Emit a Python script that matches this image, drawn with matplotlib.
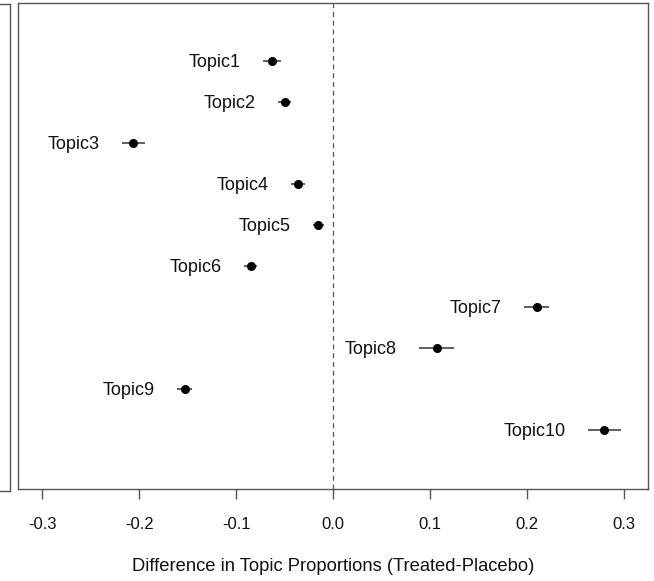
import numpy as np
import matplotlib
matplotlib.use('Agg')
import matplotlib.pyplot as plt

plt.rcParams['font.family'] = ['Liberation Sans', 'DejaVu Sans']

topics = ['Topic1', 'Topic2', 'Topic3', 'Topic4', 'Topic5',
          'Topic6', 'Topic7', 'Topic8', 'Topic9', 'Topic10']
estimates = [-0.063, -0.050, -0.206, -0.036, -0.015, -0.085, 0.210, 0.107, -0.153, 0.280]
ci_half = [0.009, 0.007, 0.012, 0.007, 0.006, 0.007, 0.013, 0.018, 0.008, 0.017]

estimates = np.array(estimates)
ci_half = np.array(ci_half)
lower = estimates - ci_half
upper = estimates + ci_half
ypos = np.arange(1, len(topics) + 1)

fig = plt.figure(figsize=(6.54, 5.81), dpi=100)

# edge of the neighbouring panel, cut off on the left
left = fig.add_axes([-0.3, 1 - 491 / 581, 0.3 + 10 / 654, (491 - 4) / 581])
left.set_xticks([])
left.set_yticks([])
for s in left.spines.values():
    s.set_color('#555555')
    s.set_linewidth(1.0)

ax = fig.add_axes([18 / 654, 1 - 489 / 581, (648 - 18) / 654, (489 - 3) / 581])

ax.axvline(0, color='#555555', linestyle=(0, (4, 3)), linewidth=0.9)
ax.hlines(ypos, lower, upper, color='#444444', linewidth=1.2)
ax.plot(estimates, ypos, 'o', color='black', markersize=5.5)

for t, lo, y in zip(topics, lower, ypos):
    ax.annotate(t, (lo, y), xytext=(-16, -1.2), textcoords='offset points',
                ha='right', va='center', fontsize=13, color='#111111')

ax.set_xlim(-0.325, 0.325)
ax.set_ylim(11.44, -0.415)
ax.set_yticks([])
ax.set_xticks([-0.3, -0.2, -0.1, 0.0, 0.1, 0.2, 0.3])
ax.set_xticklabels(['-0.3', '-0.2', '-0.1', '0.0', '0.1', '0.2', '0.3'])
ax.tick_params(axis='x', length=7, width=1, color='#555555', labelsize=12,
               pad=13, labelcolor='#111111')
for s in ax.spines.values():
    s.set_color('#555555')
    s.set_linewidth(1.0)

ax.set_xlabel('Difference in Topic Proportions (Treated-Placebo)', fontsize=13.2,
              labelpad=19, color='#111111')

fig.savefig('out.png', dpi=100)
